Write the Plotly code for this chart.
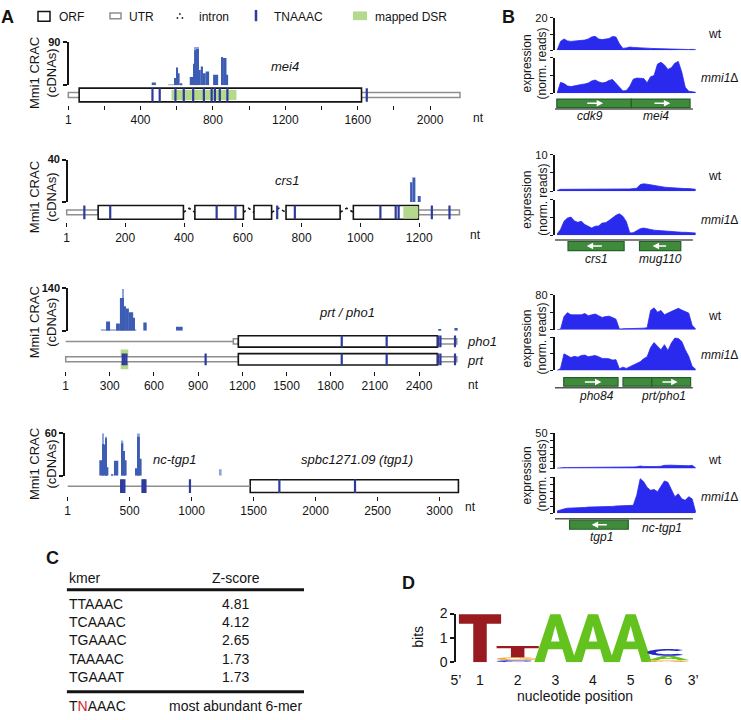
import numpy as np
import plotly.graph_objects as go

W, H = 741, 720
FONT = "Liberation Sans, Arial, Helvetica, sans-serif"
INK = "#141414"
BAR_DARK = "#3D5CB4"
BAR_LIGHT = "#8DA3DB"
MOTIF = "#2E3A9C"
DSR = "#B5D98C"
UTR_EDGE = "#8E8E8E"
AREA = "#2A2AEE"
GENE_FILL = "#3F8B3B"
GENE_EDGE = "#24602A"
LOGO_COLORS = {"A": "#64C21E", "C": "#2327C4", "G": "#F1A52E", "T": "#9A1B1F"}

# ======================= DATA =======================
# ---- Panel A : mei4 ----
mei4_utr = [(1, 2165)]
mei4_orf = [(61, 1621)]
mei4_dsr = [(571, 930)]
mei4_motifs = [466, 506, 593, 639, 691, 750, 793, 811, 838, 880, 1650]
mei4_bars = [(462, 485, 5.5), (589, 598, 15), (598, 607, 37), (607, 616, 25), (616, 631, 4),
             (672, 690, 17), (690, 696, 45), (696, 712, 73), (712, 723, 76), (723, 733, 32),
             (733, 745, 39), (745, 760, 25), (760, 779, 29), (801, 829, 22), (847, 856, 59),
             (856, 875, 57), (875, 884, 22)]
mei4_light = [(553, 589, 1.5), (696, 723, 80)]
mei4_ticks = [1, 200, 400, 600, 800, 1000, 1200, 1400, 1600, 1800, 2000]
mei4_ticktext = ["1", "", "400", "", "800", "", "1200", "", "1600", "", "2000"]

# ---- Panel A : crs1 ----
crs1_utr = [(1, 108), (1197, 1337)]
crs1_exons = [(108, 398), (437, 602), (638, 698), (747, 931), (976, 1197)]
crs1_introns = [(398, 437), (602, 638), (698, 747), (931, 976)]
crs1_dsr = [(1146, 1197)]
crs1_motifs = [61, 149, 511, 575, 717, 777, 1068, 1120, 1130, 1243, 1303]
crs1_bars = [(1169, 1177, 18.5), (1177, 1187, 23), (1195, 1205, 5.5)]
crs1_ticks = [1, 200, 400, 600, 800, 1000, 1200]
crs1_ticktext = ["1", "200", "400", "600", "800", "1000", "1200"]

# ---- Panel A : prt / pho1 ----
pho1_line = [(1, 1139)]
pho1_utr = [(1139, 1173), (2524, 2656)]
pho1_orf = [(1173, 2524)]
pho1_motifs = [1875, 2180, 2530, 2545, 2644]
prt_utr = [(1, 1173), (2524, 2656)]
prt_orf = [(1173, 2524)]
prt_dsr = [(374, 426)]
prt_motifs = [388, 400, 413, 951, 1875, 2180, 2530, 2545, 2644]
prt_bars = [(275, 302, 30), (343, 369, 24), (369, 385, 108), (385, 396, 108), (396, 410, 81),
            (410, 430, 73), (430, 459, 61), (459, 470, 43), (528, 551, 27), (750, 795, 13),
            (2530, 2550, 5.5), (2640, 2662, 9)]
prt_light = [(240, 480, 4), (385, 396, 138)]
prt_ticks = [1, 300, 600, 900, 1200, 1500, 1800, 2100, 2400]
prt_ticktext = ["1", "300", "600", "900", "1200", "1500", "1800", "2100", "2400"]

# ---- Panel A : tgp1 ----
tgp1_line = [(1, 1473)]
tgp1_orf = [(1473, 3152)]
tgp1_motifs = [432, 445, 458, 604, 616, 628, 987, 1708, 2318]
tgp1_bars = [(256, 283, 22), (283, 294, 45), (294, 305, 44), (305, 315, 53), (315, 329, 12),
             (356, 369, 2), (374, 409, 21), (436, 449, 46), (449, 463, 35), (463, 476, 22),
             (551, 567, 10.5), (567, 583, 55), (583, 597, 24)]
tgp1_light = [(283, 294, 60), (305, 315, 55), (436, 449, 50), (567, 583, 60), (1221, 1242, 9)]
tgp1_ticks = [1, 500, 1000, 1500, 2000, 2500, 3000]
tgp1_ticktext = ["1", "500", "1000", "1500", "2000", "2500", "3000"]

crac_max = [90, 40, 140, 60]

# ---- Panel B : coverage (relative genomic position 0..100) ----
b_x = [0, 2.5, 5, 7.5, 10, 12.5, 15, 17.5, 20, 22.5, 25, 27.5, 30, 32.5, 35, 37.5, 40, 42.5, 45,
       47.5, 50, 52.5, 55, 57.5, 60, 62.5, 65, 67.5, 70, 72.5, 75, 77.5, 80, 82.5, 85, 87.5, 90,
       92.5, 95, 97.5, 100]
b1_wt = [0, 5.5, 7, 5.8, 5.5, 5.6, 6, 6.2, 6.3, 7, 8.2, 8.6, 7, 6.6, 7, 7.2, 8.5, 8.2, 4, 1.2,
         1.5, 2, 1.8, 1.6, 1.5, 1.4, 1.2, 1.2, 1.1, 1, 1, 1, 0.9, 0.9, 0.8, 0.7, 0.7, 0.6, 0.5,
         0.6, 0.4]
b1_mmi = [0, 6.2, 5.5, 4.2, 3.8, 4.2, 5, 5, 5.3, 5.8, 7, 7.5, 6.5, 5.9, 6.2, 7.3, 7.8, 5.8, 3.5,
          1.4, 1.6, 4, 8, 8.6, 8.5, 8.4, 6, 9.4, 10, 16.5, 17.5, 16, 13.5, 14.5, 17, 18, 12, 3.5,
          1.2, 0.8, 0.6]
b2_wt = [0.2, 0.5, 0.5, 0.5, 0.4, 0.4, 0.5, 0.5, 0.5, 0.4, 0.5, 0.5, 0.5, 0.6, 0.5, 0.5, 0.6,
         0.6, 0.5, 0.6, 0.6, 0.6, 0.7, 0.8, 1.8, 2.0, 1.9, 1.7, 1.5, 1.4, 1.3, 1.1, 1.0, 0.9,
         0.9, 0.8, 0.8, 0.7, 0.7, 0.6, 0.5]
b2_mmi = [0.3, 1.6, 3.9, 4.8, 5.1, 4.0, 3.6, 3.9, 3.0, 2.5, 2.0, 2.5, 2.6, 3.4, 3.5, 4.1, 4.8,
          5.6, 6.0, 5.3, 3.8, 0.6, 0.7, 1.2, 1.8, 2.0, 1.7, 1.6, 1.4, 1.3, 1.2, 1.1, 1.0, 1.0,
          0.9, 0.9, 0.8, 0.8, 0.7, 0.7, 0.6]
b3_wt = [0, 1, 30, 39, 34, 34, 34, 34, 37, 32, 34, 36, 32, 28, 30, 31, 28, 24, 1.5, 2.5, 2.5,
         2.5, 2.5, 2.5, 3, 3.5, 4.5, 44, 50, 40, 44, 34, 38, 42, 46, 49, 45, 42, 38, 10, 1.5]
b3_mmi = [0, 5, 40, 35, 31, 34, 32, 36, 37, 33, 34, 36, 33, 29, 29, 28, 25, 26, 4, 8, 5, 9, 13,
          17, 21, 28, 33, 55, 67, 58, 50, 62, 48, 66, 78, 77, 70, 50, 34, 10, 3]
b4_wt = [0.5, 1.2, 1.3, 1.4, 1.4, 1.5, 1.5, 1.5, 1.6, 1.6, 1.6, 1.7, 1.7, 1.8, 1.8, 1.8, 1.9,
         1.9, 2.0, 2.0, 2.1, 2.1, 2.2, 2.5, 3.5, 3.0, 2.6, 2.6, 2.8, 3.0, 3.2, 4.5, 5.0, 4.8, 4.5,
         4.2, 4.0, 4.3, 4.0, 4.5, 1.0]
b4_mmi = [3, 5, 6, 7, 7, 7.5, 8, 8, 8, 8.5, 8.5, 8.5, 9, 9, 9, 9.5, 9.5, 10, 10, 10.5, 11, 11,
          11, 25, 48, 44, 36, 32, 33, 30, 38, 45, 43, 34, 23, 27, 20, 18, 23, 20, 2]
b_ymax = [20, 10, 80, 50]
b_yticks = [[0, 10, 20], [0, 5, 10], [0, 40, 80], [0, 10, 20, 30, 40, 50]]
# genes: (start, end, strand)
b_genes = [[(-0.2, 53.6, 1), (53.6, 96.0, 1)],
           [(7.9, 48.4, -1), (59.5, 89.3, -1)],
           [(4.8, 44.0, 1), (47.6, 68.4, 1), (68.4, 96.4, 1)],
           [(9.0, 51.4, -1)]]
b_arrows = [[(20.7, 33.2), (69.2, 81.7)], [(33.4, 21.4), (79.8, 69.0)],
            [(19.0, 32.0), (75.0, 87.0)], [(37.0, 25.0)]]
b_labels = [[("cdk9", 23.6), ("mei4", 71.7)], [("crs1", 28.6), ("mug110", 75.0)],
            [("pho84", 28.6), ("prt/pho1", 77.0)], [("tgp1", 32.0), ("nc-tgp1", 76.0)]]
b_line = [(-2, 98), (-2, 98), (-2, 98), (-2, 98)]

# ---- Panel C ----
c_header = ["kmer", "Z-score"]
c_kmers = ["TTAAAC", "TCAAAC", "TGAAAC", "TAAAAC", "TGAAAT"]
c_zscores = [4.81, 4.12, 2.65, 1.73, 1.73]
c_footer = ["T<span style='color:#D7262B'>N</span>AAAC", "most abundant 6-mer"]

# ---- Panel D : sequence logo (letters stacked bottom -> top, heights in bits) ----
logo_positions = [1, 2, 3, 4, 5, 6]
logo_letters = [["T"], ["C", "G", "T"], ["A"], ["A"], ["A"], ["G", "A", "C"]]
logo_bits = [[1.97], [0.08, 0.12, 0.46], [1.97], [1.97], [1.97], [0.08, 0.18, 0.28]]
logo_tickvals = [0.36, 1, 2, 3, 4, 5, 6, 6.66]
logo_ticktext = ["5\u2019", "1", "2", "3", "4", "5", "6", "3\u2019"]

# ======================= BUILD =======================
def fx(px):
    return px / W

def fy(py):
    return 1 - py / H

def dy(top, bottom):
    return [fy(bottom), fy(top)]

layout = dict(width=W, height=H, margin=dict(l=0, r=0, t=0, b=0), paper_bgcolor="white",
              plot_bgcolor="rgba(0,0,0,0)", showlegend=False, barmode="overlay",
              font=dict(family=FONT, size=12, color=INK))
traces, shapes, annos = [], [], []
cnt = {"x": 0, "y": 0}

def add_axis(kind, **props):
    cnt[kind] += 1
    n = cnt[kind]
    key = kind + "axis" + ("" if n == 1 else str(n))
    layout[key] = props
    return kind + ("" if n == 1 else str(n)), key

def text(px, py, s, size=12, anchor="center", angle=0, color=INK):
    annos.append(dict(x=fx(px), y=fy(py), xref="paper", yref="paper", text=s, showarrow=False,
                      xanchor=anchor, yanchor="middle", textangle=angle,
                      font=dict(size=size, color=color, family=FONT)))

def rect(xr, yr, x0, x1, y0, y1, edge, fill, lw):
    shapes.append(dict(type="rect", xref=xr, yref=yr, x0=x0, x1=x1, y0=y0, y1=y1,
                       line=dict(color=edge if edge else "rgba(0,0,0,0)", width=lw if edge else 0),
                       fillcolor=fill, layer="below"))

def motif_trace(xr, yr, pos, yc, half, width=2.2):
    xs, ys = [], []
    for m in pos:
        xs += [m, m, None]
        ys += [yc - half, yc + half, None]
    traces.append(go.Scatter(x=xs, y=ys, mode="lines", line=dict(color=MOTIF, width=width),
                             xaxis=xr, yaxis=yr, hoverinfo="skip"))

def line_trace(xr, yr, segs, yc, color, width, dash="solid"):
    xs, ys = [], []
    for a, b in segs:
        xs += [a, b, None]
        ys += [yc, yc, None]
    traces.append(go.Scatter(x=xs, y=ys, mode="lines", line=dict(color=color, width=width, dash=dash),
                             xaxis=xr, yaxis=yr, hoverinfo="skip"))

def bar_trace(xr, yr, bars, color):
    traces.append(go.Bar(x=[(a + b) / 2 for a, b, h in bars], y=[h for a, b, h in bars],
                         width=[b - a for a, b, h in bars], marker=dict(color=color, line=dict(width=0)),
                         xaxis=xr, yaxis=yr, hoverinfo="skip"))

# ---------- Panel A rows ----------
A_ROWS = [
    dict(px1=68.3, s=0.181, bar=(35, 79), gene=(79, 99), grange=[-0.714, 0.714], axpx=67.5,
         ticks=mei4_ticks, tt=mei4_ticktext),
    dict(px1=66.7, s=0.294, bar=(155, 198.3), gene=(199, 219), grange=[-0.714, 0.714], axpx=67,
         ticks=crs1_ticks, tt=crs1_ticktext),
    dict(px1=65.7, s=0.1473, bar=(286.7, 330), gene=(331, 371), grange=[-0.64, 1.546], axpx=67,
         ticks=prt_ticks, tt=prt_ticktext),
    dict(px1=67.7, s=0.124, bar=(435, 478.3), gene=(479, 499), grange=[-0.77, 0.77], axpx=64,
         ticks=tgp1_ticks, tt=tgp1_ticktext),
]
A_AX = []
for i, c in enumerate(A_ROWS):
    xr = [1 + (55 - c["px1"]) / c["s"], 1 + (475 - c["px1"]) / c["s"]]
    xref, xkey = add_axis("x", domain=[fx(55), fx(475)], range=xr, showgrid=False, zeroline=False,
                          showline=False, ticks="outside", ticklen=4, tickwidth=1.2, tickcolor=INK,
                          tickvals=c["ticks"], ticktext=c["tt"], tickfont=dict(size=12, color=INK))
    ymax = crac_max[i]
    ybar, _ = add_axis("y", domain=dy(*c["bar"]), range=[0, ymax], anchor="free",
                       position=fx(c["axpx"]), showline=True, linecolor=INK, linewidth=1.6,
                       ticks="outside", ticklen=4, tickwidth=1.6, tickcolor=INK,
                       tickvals=[0, ymax], ticktext=["", "<b>%d</b>" % ymax], showgrid=False,
                       zeroline=False, tickfont=dict(size=11, color=INK))
    ygene, _ = add_axis("y", domain=dy(*c["gene"]), range=c["grange"], anchor=xref,
                        visible=False, showgrid=False, zeroline=False)
    layout[xkey]["anchor"] = ygene
    A_AX.append((xref, ybar, ygene))

# row 1: mei4
xr, yb, yg = A_AX[0]
for a, b in mei4_utr:
    rect(xr, yg, a, b, -0.18, 0.18, UTR_EDGE, "white", 1.5)
for a, b in mei4_orf:
    rect(xr, yg, a, b, -0.5, 0.5, INK, "white", 1.6)
for a, b in mei4_dsr:
    rect(xr, yg, a, b, -0.36, 0.36, None, DSR, 0)
motif_trace(xr, yg, mei4_motifs, 0, 0.5)
bar_trace(xr, yb, mei4_light, BAR_LIGHT)
bar_trace(xr, yb, mei4_bars, BAR_DARK)

# row 2: crs1
xr, yb, yg = A_AX[1]
for a, b in crs1_utr:
    rect(xr, yg, a, b, -0.18, 0.18, UTR_EDGE, "white", 1.5)
for a, b in crs1_exons:
    rect(xr, yg, a, b, -0.5, 0.5, INK, "white", 1.6)
for a, b in crs1_dsr:
    rect(xr, yg, a, b, -0.45, 0.45, None, DSR, 0)
ix, iy = [], []
for a, b in crs1_introns:
    ix += [a, (a + b) / 2, b, None]
    iy += [0, 0.3, 0, None]
traces.append(go.Scatter(x=ix, y=iy, mode="lines", line=dict(color=INK, width=1.6, dash="dot"),
                         xaxis=xr, yaxis=yg, hoverinfo="skip"))
motif_trace(xr, yg, crs1_motifs, 0, 0.5)
bar_trace(xr, yb, crs1_bars, BAR_DARK)

# row 3: prt / pho1  (pho1 track at y=1, prt track at y=0)
xr, yb, yg = A_AX[2]
line_trace(xr, yg, pho1_line, 1, UTR_EDGE, 1.5)
for a, b in pho1_utr:
    rect(xr, yg, a, b, 1 - 0.15, 1 + 0.15, UTR_EDGE, "white", 1.5)
for a, b in pho1_orf:
    rect(xr, yg, a, b, 1 - 0.32, 1 + 0.32, INK, "white", 1.6)
for a, b in prt_dsr:
    rect(xr, yg, a, b, -0.55, 0.55, None, DSR, 0)
for a, b in prt_utr:
    rect(xr, yg, a, b, -0.14, 0.14, UTR_EDGE, "white", 1.5)
for a, b in prt_orf:
    rect(xr, yg, a, b, -0.32, 0.32, INK, "white", 1.6)
motif_trace(xr, yg, pho1_motifs, 1, 0.33)
motif_trace(xr, yg, prt_motifs, 0, 0.33)
bar_trace(xr, yb, prt_light, BAR_LIGHT)
bar_trace(xr, yb, prt_bars, BAR_DARK)

# row 4: tgp1
xr, yb, yg = A_AX[3]
line_trace(xr, yg, tgp1_line, 0, UTR_EDGE, 1.5)
for a, b in tgp1_orf:
    rect(xr, yg, a, b, -0.5, 0.5, INK, "white", 1.6)
motif_trace(xr, yg, tgp1_motifs, 0, 0.54)
bar_trace(xr, yb, tgp1_light, BAR_LIGHT)
bar_trace(xr, yb, tgp1_bars, BAR_DARK)

# Panel A texts / legend
text(7.5, 9, "<b>A</b>", size=18)
shapes.append(dict(type="rect", xref="paper", yref="paper", x0=fx(38), x1=fx(50), y0=fy(13.5),
                   y1=fy(3.5), line=dict(color=INK, width=1.5), fillcolor="white"))
text(57, 8.7, "ORF", anchor="left")
shapes.append(dict(type="rect", xref="paper", yref="paper", x0=fx(110), x1=fx(121), y0=fy(11),
                   y1=fy(5), line=dict(color=UTR_EDGE, width=1.5), fillcolor="white"))
text(126.7, 8.7, "UTR", anchor="left")
text(179.5, 8.0, "\u2234", size=12)
text(196.7, 8.7, "intron", anchor="left")
shapes.append(dict(type="line", xref="paper", yref="paper", x0=fx(256), x1=fx(256), y0=fy(13.5),
                   y1=fy(2), line=dict(color=MOTIF, width=2.5)))
text(271.7, 8.7, "TNAAAC", anchor="left")
shapes.append(dict(type="rect", xref="paper", yref="paper", x0=fx(353), x1=fx(367), y0=fy(12.5),
                   y1=fy(3.5), line=dict(width=0), fillcolor=DSR))
text(373.3, 8.7, "mapped DSR", anchor="left")
for yc in [67, 194, 322, 467]:
    text(42.5, yc, "Mmi1 CRAC<br>(cDNAs)", size=13, angle=-90)
text(285, 60, "<i>mei4</i>", size=13)
text(287.7, 176.7, "<i>crs1</i>", size=13)
text(346.7, 311.7, "<i>prt / pho1</i>", size=13)
text(465, 341, "<i>pho1</i>", size=13, anchor="left")
text(465, 360, "<i>prt</i>", size=13, anchor="left")
text(174, 461.7, "<i>nc-tgp1</i>", size=13)
text(356.7, 461.7, "<i>spbc1271.09 (tgp1)</i>", size=13)
for (nx, ny) in [(478, 112), (475, 232), (473, 386), (470, 510)]:
    text(nx, ny, "nt", size=12)

# ---------- Panel B rows ----------
# gene axis: range [-1.6, 1], 15 px per unit, y=0 is the genome line
B_ROWS = [
    dict(wt=(10, 43.3), mm=(51, 87.3), line=103.3, label_y=[-0.47, -0.47], wty=26.7, mmy=71.7, ey=56.7),
    dict(wt=(150, 187.3), mm=(196, 232.3), line=237.3, label_y=[-1.29, -1.29], wty=171.7, mmy=216.7, ey=196),
    dict(wt=(293.3, 329), mm=(336.7, 370.7), line=388.3, label_y=[-0.56, -0.56], wty=315, mmy=355, ey=338),
    dict(wt=(435, 471), mm=(480, 516.7), line=522.3, label_y=[-1.23, -0.63], wty=462.7, mmy=500, ey=478),
]
B_WT = [b1_wt, b2_wt, b3_wt, b4_wt]
B_MM = [b1_mmi, b2_mmi, b3_mmi, b4_mmi]
for i, c in enumerate(B_ROWS):
    xref, xkey = add_axis("x", domain=[fx(555), fx(697)], range=[-1.5, 101], visible=False,
                          showgrid=False, zeroline=False)
    ymax = b_ymax[i]
    tv = b_yticks[i]
    common = dict(range=[0, ymax], anchor=xref, showline=True, linecolor=INK, linewidth=1.5,
                  ticks="outside", ticklen=3.5, tickwidth=1.4, tickcolor=INK, tickvals=tv,
                  showgrid=False, zeroline=False, tickfont=dict(size=11, color=INK))
    ywt, _ = add_axis("y", domain=dy(*c["wt"]), ticktext=[""] * (len(tv) - 1) + [str(ymax)], **common)
    ymm, _ = add_axis("y", domain=dy(*c["mm"]), ticktext=[""] * len(tv), **common)
    yg, _ = add_axis("y", domain=dy(c["line"] - 15, c["line"] + 24), range=[-1.6, 1], anchor=xref,
                     visible=False, showgrid=False, zeroline=False)
    layout[xkey]["anchor"] = yg
    for yref, vals in [(ywt, B_WT[i]), (ymm, B_MM[i])]:
        traces.append(go.Scatter(x=b_x, y=vals, mode="lines", fill="tozeroy", fillcolor=AREA,
                                 line=dict(color=AREA, width=0.8), xaxis=xref, yaxis=yref,
                                 hoverinfo="skip"))
    line_trace(xref, yg, [b_line[i]], 0, "#555555", 1.5)
    for a, b, strand in b_genes[i]:
        y0, y1 = (0.1, 0.68) if strand > 0 else (-0.72, -0.1)
        shapes.append(dict(type="rect", xref=xref, yref=yg, x0=a, x1=b, y0=y0, y1=y1,
                           line=dict(color=GENE_EDGE, width=1.2), fillcolor=GENE_FILL))
    ymid = 0.39 if b_genes[i][0][2] > 0 else -0.41
    for tail, head in b_arrows[i]:
        annos.append(dict(x=head, y=ymid, ax=tail, ay=ymid, xref=xref, yref=yg, axref=xref,
                          ayref=yg, text="", showarrow=True, arrowhead=2, arrowsize=0.8,
                          arrowwidth=1.6, arrowcolor="white"))
    for (name, gx), ly in zip(b_labels[i], c["label_y"]):
        annos.append(dict(x=gx, y=ly, xref=xref, yref=yg, text="<i>%s</i>" % name, showarrow=False,
                          xanchor="center", yanchor="middle", font=dict(size=12, color=INK, family=FONT)))
    text(706, c["wty"], "wt", size=12, anchor="left")
    text(699, c["mmy"], "<i>mmi1</i>\u0394", size=12, anchor="left")
    text(535, c["ey"], "expression<br>(norm. reads)", size=12, angle=-90)
text(508, 9, "<b>B</b>", size=18)

# ---------- Panel C ----------
xc, xck = add_axis("x", domain=[fx(66.7), fx(304)], range=[0, 1], visible=False)
yc, _ = add_axis("y", domain=dy(575, 720), range=[6.93, -0.837], anchor=xc, visible=False)
layout[xck]["anchor"] = yc
ZX = 0.713
for yl in [0.234, 5.82]:
    traces.append(go.Scatter(x=[0, 1], y=[yl, yl], mode="lines", line=dict(color=INK, width=3.2),
                             xaxis=xc, yaxis=yc, hoverinfo="skip"))

def ctext(x, y, s, anchor):
    annos.append(dict(x=x, y=y, xref=xc, yref=yc, text=s, showarrow=False, xanchor=anchor,
                      yanchor="middle", font=dict(size=14, color=INK, family=FONT)))

ctext(0, -0.41, c_header[0], "left")
ctext(ZX, -0.41, c_header[1], "center")
for r, (k, z) in enumerate(zip(c_kmers, c_zscores), start=1):
    ctext(0, r, k, "left")
    ctext(ZX, r, "%.2f" % z, "center")
ctext(0, 6.61, c_footer[0], "left")
ctext(ZX, 6.61, c_footer[1], "center")
text(53, 562, "<b>C</b>", size=18)

# ---------- Panel D ----------
xd, xdk = add_axis("x", domain=[fx(440), fx(710)], range=[-0.062, 7.106], showgrid=False,
                   zeroline=False, showline=False, ticks="outside", ticklen=5,
                   tickcolor="rgba(0,0,0,0)", tickvals=logo_tickvals, ticktext=logo_ticktext,
                   tickfont=dict(size=14, color=INK))
yd, _ = add_axis("y", domain=dy(619.3, 669), range=[0, 2], anchor="free", position=fx(455),
                 showline=True, linecolor=INK, linewidth=1.5, ticks="outside", ticklen=4,
                 tickwidth=1.5, tickcolor=INK, tickvals=[0, 1, 2], showgrid=False, zeroline=False,
                 tickfont=dict(size=14, color=INK))
layout[xdk]["anchor"] = yd
traces.append(go.Scatter(x=logo_positions, y=[0] * len(logo_positions), mode="markers",
                         marker=dict(opacity=0, size=1), xaxis=xd, yaxis=yd, hoverinfo="skip"))

def c_ring(a0, a1, n=30):
    angs = np.radians(np.linspace(a0, a1, n))
    outer = [(0.5 + 0.5 * np.cos(a), 0.5 + 0.5 * np.sin(a)) for a in angs]
    inner = [(0.5 + 0.3 * np.cos(a), 0.5 + 0.27 * np.sin(a)) for a in angs[::-1]]
    return outer + inner

GLYPHS = {
    "T": [[(0, 1), (1, 1), (1, 0.8), (0.66, 0.8), (0.66, 0), (0.34, 0), (0.34, 0.8), (0, 0.8)]],
    "A": [[(0, 0), (0.38, 1), (0.62, 1), (1, 0), (0.76, 0), (0.67, 0.27), (0.33, 0.27), (0.24, 0)],
          [(0.4, 0.43), (0.6, 0.43), (0.5, 0.76)]],
    "C": [c_ring(45, 315)],
    "G": [c_ring(45, 340), [(0.55, 0.42), (0.97, 0.42), (0.97, 0.54), (0.55, 0.54)]],
}
LW = 1.12
for p, letters, bits in zip(logo_positions, logo_letters, logo_bits):
    base = 0.0
    for L, h in zip(letters, bits):
        parts = []
        for poly in GLYPHS[L]:
            pts = ["%.4f,%.4f" % (p - LW / 2 + gx * LW, base + gy * h) for gx, gy in poly]
            parts.append("M" + " L".join(pts) + " Z")
        shapes.append(dict(type="path", xref=xd, yref=yd, path=" ".join(parts),
                           fillcolor=LOGO_COLORS[L], line=dict(width=0), layer="above"))
        base += h
text(408, 588, "<b>D</b>", size=18)
text(418, 643, "bits", size=14, angle=-90)
text(575, 704, "nucleotide position", size=14)

layout["shapes"] = shapes
layout["annotations"] = annos
fig = go.Figure(data=traces, layout=layout)
fig.write_html("out.html", config={"displayModeBar": False},
               post_script="document.body.style.margin='0px';document.body.style.padding='0px';")
